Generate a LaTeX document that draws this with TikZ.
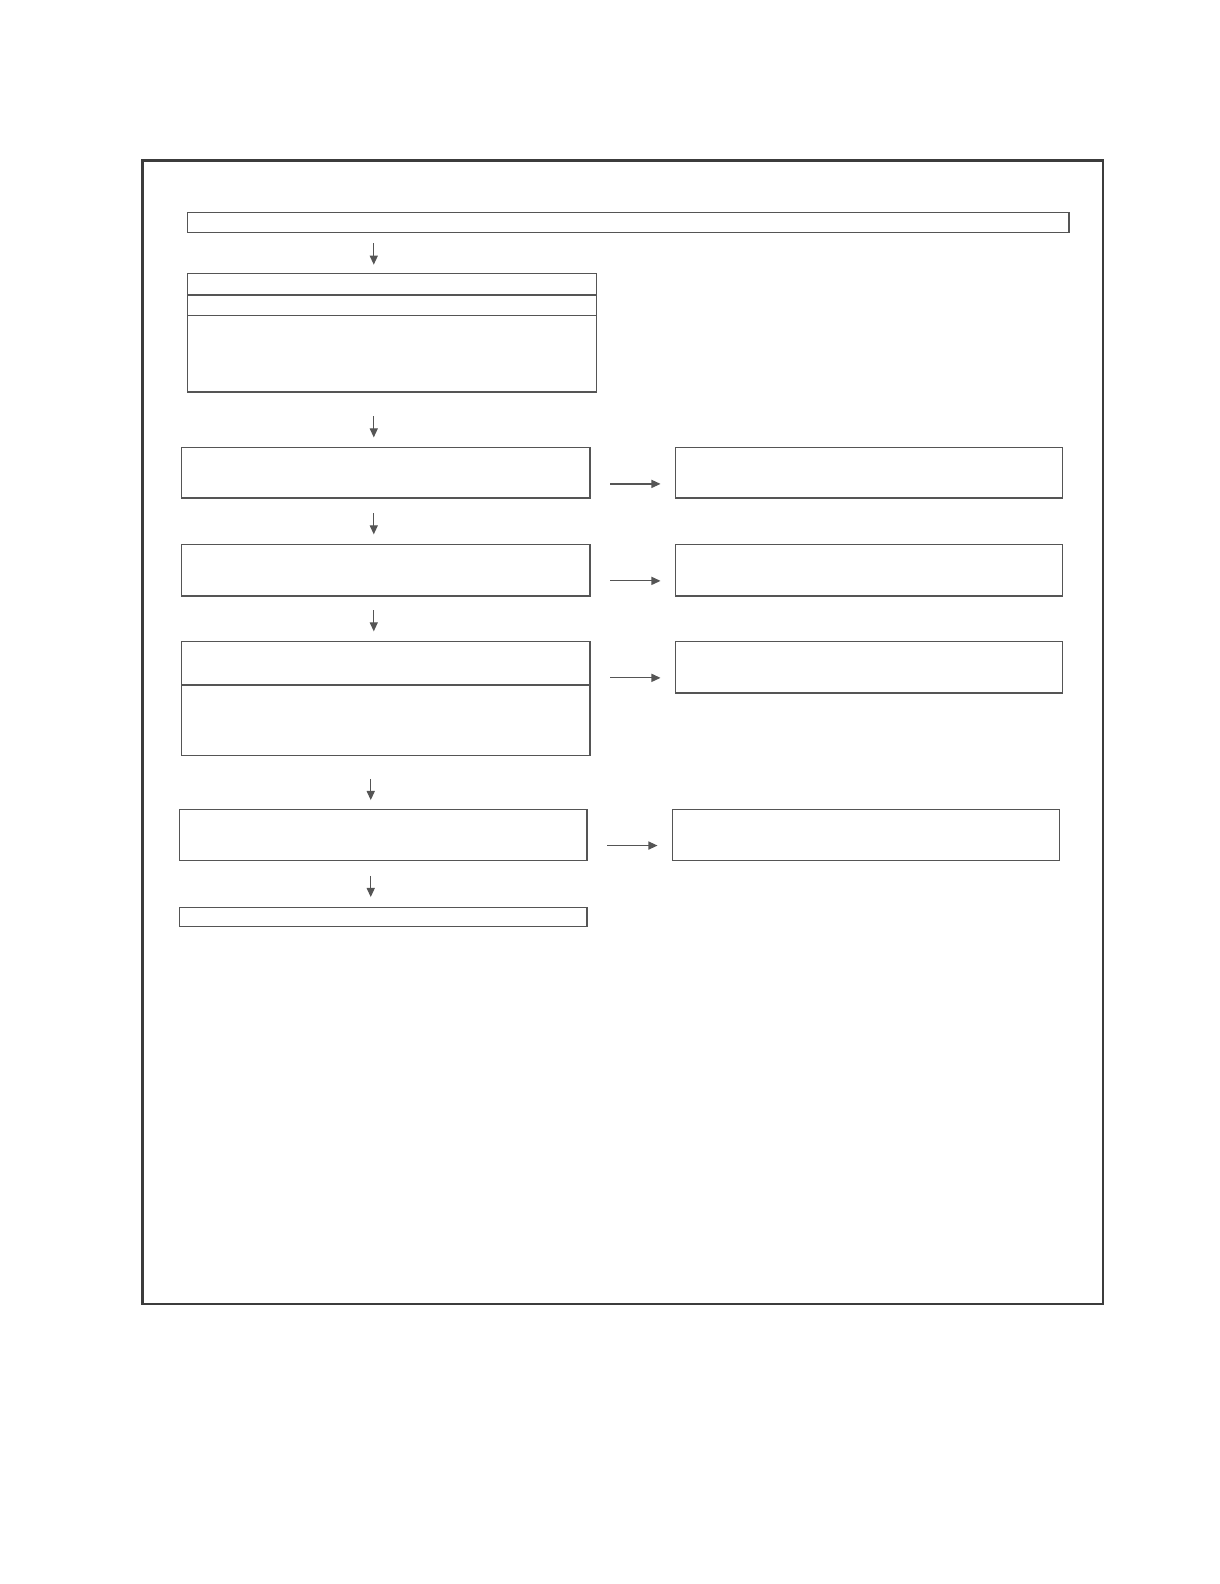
\documentclass[tikz,border=0pt]{standalone}
\usepackage{tikz}
\usetikzlibrary{positioning,arrows.meta}

\definecolor{linegray}{RGB}{85,85,85}
\definecolor{framegray}{RGB}{60,60,60}

\begin{document}
\begin{tikzpicture}[
  x=0.01cm,y=-0.01cm,
  every node/.style={
    draw=linegray,
    rectangle,
    line width=0.34pt,
    inner sep=0pt,
    outer sep=0pt,
  },
  leftbox/.style={minimum width=4.04cm},
  rightbox/.style={minimum width=3.83cm},
  arr/.style={draw=linegray,line width=0.34pt,-{Triangle[length=0.09cm,width=0.08cm]}},
]
\useasboundingbox (0,0) rectangle (1207,1568);
\draw[framegray,line width=0.65pt] (141,159) rectangle (1092,1291);

\node[minimum width=8.72cm,minimum height=0.20cm] at (622,220) (start) {};

\node[leftbox,minimum height=0.21cm] at (388,281.5) (eingangA) {};
\node[leftbox,minimum height=0.20cm,below=0pt of eingangA] (eingangB) {};
\node[leftbox,minimum height=0.76cm,below=0pt of eingangB] (eingangC) {};

\node[leftbox,minimum height=0.50cm] at (382,468) (stufe1) {};
\node[rightbox,minimum height=0.50cm] at (860.5,468) (ergebnis1) {};
\node[leftbox,minimum height=0.51cm] at (382,564.5) (stufe2) {};
\node[rightbox,minimum height=0.51cm] at (860.5,564.5) (ergebnis2) {};
\node[leftbox,minimum height=0.43cm] at (382,656.5) (stufe3A) {};
\node[leftbox,minimum height=0.70cm,below=0pt of stufe3A] (stufe3B) {};
\node[rightbox,minimum height=0.51cm] at (860.5,660.5) (ergebnis3) {};
\node[minimum width=4.03cm,minimum height=0.51cm] at (379.5,826.5) (stufe4) {};
\node[rightbox,minimum height=0.51cm] at (857.5,826.5) (ergebnis4) {};
\node[minimum width=4.03cm,minimum height=0.19cm] at (379.5,907.5) (ende) {};

\path[arr,shorten <=0.11cm,shorten >=0.09cm] (start.south -| 370,0) -- (eingangA.north -| 370,0);
\path[arr,shorten <=0.24cm,shorten >=0.10cm] (eingangC.south -| 370,0) -- (stufe1.north -| 370,0);
\path[arr,shorten <=0.15cm,shorten >=0.10cm] (stufe1.south -| 370,0) -- (stufe2.north -| 370,0);
\path[arr,shorten <=0.14cm,shorten >=0.10cm] (stufe2.south -| 370,0) -- (stufe3A.north -| 370,0);
\path[arr,shorten <=0.23cm,shorten >=0.09cm] (stufe3B.south -| 367,0) -- (stufe4.north -| 367,0);
\path[arr,shorten <=0.15cm,shorten >=0.10cm] (stufe4.south -| 367,0) -- (ende.north -| 367,0);

\path[arr,shorten <=0.20cm,shorten >=0.15cm] (stufe1.east |- 0,479) -- (ergebnis1.west |- 0,479);
\path[arr,shorten <=0.20cm,shorten >=0.15cm] (stufe2.east |- 0,575) -- (ergebnis2.west |- 0,575);
\path[arr,shorten <=0.20cm,shorten >=0.15cm] (stufe3A.east |- 0,671) -- (ergebnis3.west |- 0,671);
\path[arr,shorten <=0.20cm,shorten >=0.15cm] (stufe4.east |- 0,837) -- (ergebnis4.west |- 0,837);
\end{tikzpicture}
\end{document}
